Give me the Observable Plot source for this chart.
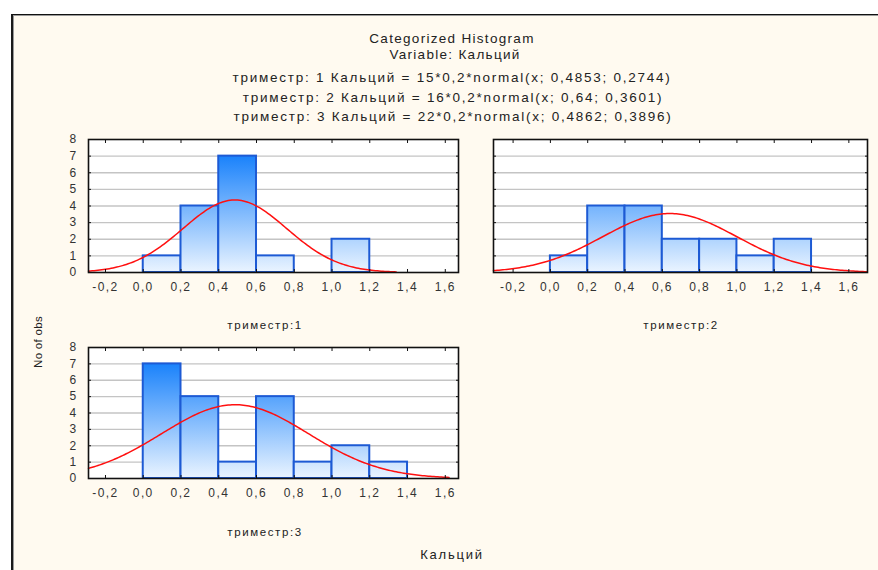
<!DOCTYPE html>
<html><head><meta charset="utf-8">
<script src="https://cdn.jsdelivr.net/npm/d3@7"></script>
<script src="https://cdn.jsdelivr.net/npm/@observablehq/plot@0.6"></script>
<style>
html,body{margin:0;padding:0;background:#fff;}
#root{position:relative;width:878px;height:570px;overflow:hidden;background:#fff;font-family:"Liberation Sans",Arial,sans-serif;color:#222;}
#bg{position:absolute;left:11px;top:14px;right:0;bottom:0;background:#fffaf0;border-left:2px solid #1a1a1a;border-top:1px solid #111;box-shadow:inset 1px 1px 0 #9a9a9a;}
.t{position:absolute;transform:translate(-50%,-50%);white-space:nowrap;}
.panel{position:absolute;}
</style></head><body><div id="root"><div id="bg"></div></div>
<script>
// ---- data ----
const binStarts = [0.0, 0.2, 0.4, 0.6, 0.8, 1.0, 1.2];
const binWidth = 0.2;
const counts1 = [1, 4, 7, 1, 0, 2, 0];
const counts2 = [1, 4, 4, 2, 2, 1, 2];
const counts3 = [7, 5, 1, 5, 1, 2, 1];
const panelNames = ["триместр:1", "триместр:2", "триместр:3"];
const nObs = [15, 16, 22];
const means = [0.4853, 0.64, 0.4862];
const sds = [0.2744, 0.3601, 0.3896];
const curveEnds = [1.34, 1.70, 1.62];
const xTicks = [-0.2, 0.0, 0.2, 0.4, 0.6, 0.8, 1.0, 1.2, 1.4, 1.6];
const yTicks = [0, 1, 2, 3, 4, 5, 6, 7, 8];
const gridTicks = [1, 2, 3, 4, 5, 6, 7];
const titleLines = ["Categorized Histogram", "Variable: Кальций"];
const fitLines = [
  "триместр: 1 Кальций = 15*0,2*normal(x; 0,4853; 0,2744)",
  "триместр: 2 Кальций = 16*0,2*normal(x; 0,64; 0,3601)",
  "триместр: 3 Кальций = 22*0,2*normal(x; 0,4862; 0,3896)"
];
const yAxisTitle = "No of obs";
const xAxisTitle = "Кальций";

const root = document.getElementById("root");
const fmt = d => d.toFixed(1).replace(".", ",");
const NS = "http://www.w3.org/2000/svg";

function addText(txt, x, y, size, spacing, rotate) {
  const el = document.createElement("div");
  el.className = "t";
  el.textContent = txt;
  el.style.left = x + "px";
  el.style.top = y + "px";
  el.style.fontSize = size + "px";
  el.style.letterSpacing = spacing + "px";
  if (rotate) el.style.transform = "translate(-50%,-50%) rotate(-90deg)";
  root.appendChild(el);
}

function panel(i, counts, o) {
  const bins = binStarts.map((s, k) => ({x1: s, x2: s + binWidth, n: counts[k]})).filter(d => d.n > 0);
  const n = nObs[i], m = means[i], s = sds[i];
  const curve = d3.range(o.xDomain[0], curveEnds[i] + 1e-9, 0.01).map(x => ({
    x, y: n * binWidth * Math.exp(-0.5 * ((x - m) / s) ** 2) / (s * Math.sqrt(2 * Math.PI))
  }));
  const gid = "grad" + i;
  const defs = (index, scales) => {
    const d = document.createElementNS(NS, "defs");
    const lg = document.createElementNS(NS, "linearGradient");
    lg.setAttribute("id", gid);
    lg.setAttribute("gradientUnits", "userSpaceOnUse");
    lg.setAttribute("x1", 0); lg.setAttribute("x2", 0);
    lg.setAttribute("y1", scales.y(7)); lg.setAttribute("y2", scales.y(0));
    [["0", "#1a82fb"], ["1", "#eaf4ff"]].forEach(([off, c]) => {
      const st = document.createElementNS(NS, "stop");
      st.setAttribute("offset", off); st.setAttribute("stop-color", c);
      lg.appendChild(st);
    });
    d.appendChild(lg);
    return d;
  };
  const marks = [
    defs,
    Plot.frame({fill: "white", stroke: null}),
    Plot.gridY(gridTicks, {stroke: "#c4c4c4", strokeOpacity: 1, strokeWidth: 1.4}),
    Plot.rectY(bins, {x1: "x1", x2: "x2", y: "n", fill: `url(#${gid})`, stroke: "#1d5ad4", strokeWidth: 2}),
    Plot.line(curve, {x: "x", y: "y", stroke: "#ff1010", strokeWidth: 1.5}),
    Plot.frame({stroke: "#111", strokeWidth: 1.6}),
    Plot.axisX(xTicks, {anchor: "bottom", tickSize: -3, fill: "none", stroke: "#111", label: null}),
    Plot.axisX(xTicks, {anchor: "top", tickSize: -3, fill: "none", stroke: "#111", label: null}),
    Plot.axisY(yTicks, {anchor: "left", tickSize: -3, fill: "none", stroke: "#111", label: null}),
    Plot.axisY(yTicks, {anchor: "right", tickSize: -3, fill: "none", stroke: "#111", label: null}),
    Plot.axisX(xTicks, {anchor: "bottom", tickSize: 0, tickPadding: 10, tickFormat: fmt, fill: "#333", fontSize: 12, label: null})
  ];
  if (o.showY) marks.push(Plot.axisY(yTicks, {anchor: "left", tickSize: 0, tickPadding: 11, fill: "#333", fontSize: 12, label: null}));
  const chart = Plot.plot({
    width: o.w, height: o.h,
    marginLeft: o.ml, marginTop: o.mt, marginRight: o.mr, marginBottom: o.mb,
    x: {domain: o.xDomain, label: null},
    y: {domain: [0, 8], label: null},
    style: {background: "transparent", fontFamily: "'Liberation Sans', Arial, sans-serif", letterSpacing: "1.4px", overflow: "visible"},
    marks
  });
  chart.classList.add("panel");
  chart.style.left = o.left + "px";
  chart.style.top = o.top + "px";
  root.appendChild(chart);
}

panel(0, counts1, {left: 50, top: 129, ml: 38, mt: 10, mr: 12, mb: 30, w: 38 + 370 + 12, h: 10 + 133 + 30, xDomain: [-0.29, 1.67], showY: true});
panel(1, counts2, {left: 480, top: 129, ml: 13, mt: 10, mr: 8, mb: 30, w: 13 + 374 + 8, h: 10 + 133 + 30, xDomain: [-0.305, 1.70], showY: false});
panel(2, counts3, {left: 50, top: 337, ml: 38, mt: 10, mr: 12, mb: 30, w: 38 + 370 + 12, h: 10 + 131 + 30, xDomain: [-0.29, 1.67], showY: true});

addText(titleLines[0], 452, 38, 13.5, 1.3);
addText(titleLines[1], 455, 54, 13.5, 1.3);
addText(fitLines[0], 452, 77, 13.5, 1.75);
addText(fitLines[1], 453, 97, 13.5, 1.75);
addText(fitLines[2], 453, 116, 13.5, 1.75);
addText(panelNames[0], 265, 325, 11.5, 1.6);
addText(panelNames[1], 681, 325, 11.5, 1.6);
addText(panelNames[2], 265, 532, 11.5, 1.6);
addText(yAxisTitle, 38, 342, 11.5, 0.3, true);
addText(xAxisTitle, 452, 554, 13, 1.8);
</script></body></html>
